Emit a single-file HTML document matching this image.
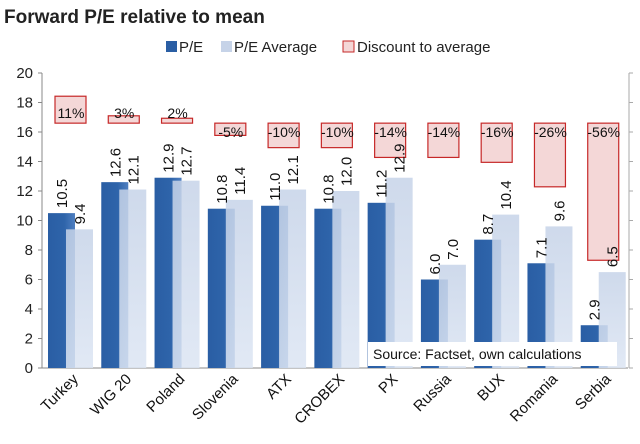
<!DOCTYPE html>
<html><head><meta charset="utf-8"><style>
body{margin:0;background:#fff;font-family:"Liberation Sans",sans-serif;}
svg text{font-family:"Liberation Sans",sans-serif;}
</style></head><body>
<svg width="640" height="439">
<defs>
<linearGradient id="gd" x1="0" x2="1" y1="0" y2="0"><stop offset="0" stop-color="#2a5ea4"/><stop offset="0.6" stop-color="#2e64aa"/><stop offset="1" stop-color="#4f7fc0"/></linearGradient>
<linearGradient id="gl" x1="0" x2="0" y1="0" y2="1"><stop offset="0" stop-color="#c6d3e8"/><stop offset="1" stop-color="#dce5f3"/></linearGradient>
</defs>
<text x="4" y="23" font-size="19" font-weight="bold" fill="#222">Forward P/E relative to mean</text>
<g id="legend">
<rect x="166" y="41" width="11" height="11" fill="#2a5ea4"/>
<text x="179" y="52" font-size="15" fill="#222">P/E</text>
<rect x="221" y="41" width="11" height="11" fill="#c6d3e8"/>
<text x="234" y="52" font-size="15" fill="#222">P/E Average</text>
<rect x="343" y="41" width="11" height="11" fill="#f4d7d7" stroke="#c62828"/>
<text x="357" y="52" font-size="15" fill="#222">Discount to average</text>
</g>
<g id="axes"></g>
<g id="bars"></g>
<g id="boxes"></g>
<g id="labels"></g>
<rect x="368" y="342" width="249" height="24" fill="#fff"/>
<text x="373" y="359" font-size="14" fill="#111">Source: Factset, own calculations</text>
</svg>
<script>
const categories=["Turkey","WIG 20","Poland","Slovenia","ATX","CROBEX","PX","Russia","BUX","Romania","Serbia"];
const peValues=[10.5,12.6,12.9,10.8,11.0,10.8,11.2,6.0,8.7,7.1,2.9];
const avgValues=[9.4,12.1,12.7,11.4,12.1,12.0,12.9,7.0,10.4,9.6,6.5];
const discounts=[11,3,2,-5,-10,-10,-14,-14,-16,-26,-56];
const yTicks=[0,2,4,6,8,10,12,14,16,18,20];
const NS="http://www.w3.org/2000/svg";
const X0=42,X1=628,Y0=368,Y20=73;
const y=v=>Y0-(v/20)*(Y0-Y20);
const bw=(X1-X0)/categories.length;
const cx=i=>X0+i*bw;
function mk(t,a,p){const e=document.createElementNS(NS,t);for(const k in a)e.setAttribute(k,a[k]);p.appendChild(e);return e;}
const ax=document.getElementById('axes'),bars=document.getElementById('bars'),boxes=document.getElementById('boxes'),labs=document.getElementById('labels');
let l=mk('line',{x1:X0,y1:Y20,x2:X0,y2:Y0,stroke:'#888'},ax);


l=mk('line',{x1:X0,y1:Y0,x2:X1,y2:Y0,stroke:'#888'},ax);


l=mk('line',{x1:X1+1,y1:Y20,x2:X1+1,y2:Y0,stroke:'#aaa'},ax);


yTicks.forEach(v=>{
 mk('line',{x1:X0-4,y1:y(v),x2:X0,y2:y(v),stroke:'#888'},ax);
 mk('line',{x1:X1+1,y1:y(v),x2:X1+5,y2:y(v),stroke:'#aaa'},ax);
 const t=mk('text',{x:X0-9,y:y(v)+5,'font-size':15,'text-anchor':'end',fill:'#222'},ax);t.textContent=v;
 
 
});
categories.forEach((c,i)=>{
 const s=cx(i);
 const b1=mk('rect',{x:s+6,y:y(peValues[i]),width:27,height:Y0-y(peValues[i]),fill:'url(#gd)'},bars);
 
 
 const b2=mk('rect',{x:s+24,y:y(avgValues[i]),width:27,height:Y0-y(avgValues[i]),fill:'url(#gl)','fill-opacity':0.85},bars);
 
 
 const l1=mk('text',{transform:`translate(${s+25},${y(peValues[i])-5}) rotate(-90)`,'font-size':15,fill:'#111'},labs);l1.textContent=peValues[i].toFixed(1);
 
 
 const l2=mk('text',{transform:`translate(${s+43},${y(avgValues[i])-5}) rotate(-90)`,'font-size':15,fill:'#111'},labs);l2.textContent=avgValues[i].toFixed(1);
 
 
 const base=16.6,d=discounts[i],top=d>0?base+d*0.166:base,bot=d>0?base:base+d*0.166;
 const r=mk('rect',{x:s+13,y:y(top),width:31,height:y(bot)-y(top),fill:'#f4d7d7',stroke:'#c62828','stroke-width':1.2},boxes);
 
 
 const dl=mk('text',{x:s+29,y:d>0?y(17.3)+5:y(16.0)+5,'font-size':14,'text-anchor':'middle',fill:'#111'},labs);dl.textContent=d+'%';
 
 
 const xl=mk('text',{transform:`translate(${s+37},${Y0+12}) rotate(-45)`,'font-size':15,'text-anchor':'end',fill:'#111'},labs);xl.textContent=c;
 
 
});
</script>
</body></html>
